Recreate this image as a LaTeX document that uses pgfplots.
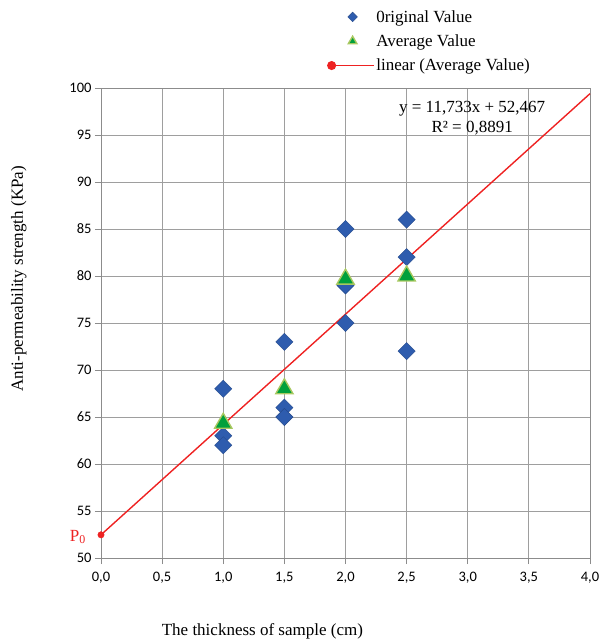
\documentclass[border=0pt]{standalone}
\usepackage{fontspec}
\setmainfont{Liberation Serif}
\newfontfamily\tickfont{Carlito}
\usepackage{pgfplots}
\pgfplotsset{compat=1.18}

\definecolor{ptblue}{HTML}{2E5CAE}
\definecolor{ptgreen}{HTML}{00A03C}
\definecolor{ptrim}{HTML}{A8C860}
\definecolor{lnred}{HTML}{EE2222}

\pgfplotsset{
    legdia/.style={legend image code/.code={\draw[##1, mark size=3.4pt, mark repeat=2, mark phase=2]
        plot coordinates {(0pt,0pt)(21pt,0pt)(42pt,0pt)};}},
    legtri/.style={legend image code/.code={\draw[##1, mark size=5pt, mark repeat=2, mark phase=2]
        plot coordinates {(0pt,0pt)(21pt,0pt)(42pt,0pt)};}},
    leglin/.style={legend image code/.code={\draw[lnred, line width=1.4pt] (0pt,0pt) -- (42pt,0pt);
        \fill[lnred] (0pt,0pt) circle (3.8pt);}},
}

\begin{document}
\begin{tikzpicture}[font=\fontsize{17}{20}\selectfont]
\begin{axis}[
    scale only axis,
    width=489pt, height=470pt,
    xmin=0, xmax=4, ymin=50, ymax=100,
    clip=false,
    xtick={0,0.5,...,4}, ytick={50,55,...,100},
    /pgf/number format/assume math mode=true,
    tick label style={font=\tickfont\fontsize{14.5}{17}\selectfont},
    x tick label style={/pgf/number format/fixed, /pgf/number format/fixed zerofill,
        /pgf/number format/precision=1, /pgf/number format/use comma, yshift=-5pt},
    grid=major,
    grid style={color=black!38, line width=0.8pt},
    axis line style={color=black!45, line width=0.8pt},
    tick style={color=black!45, line width=0.8pt},
    tick align=outside, tick pos=left, major tick length=6pt,
    xlabel={The thickness of sample (cm)},
    xlabel style={at={(axis description cs:0.33,-0.157)}, anchor=center},
    ylabel={Anti-permeability strength (KPa)},
    ylabel style={at={(axis description cs:-0.168,0.594)}, anchor=center},
    legend style={at={(axis description cs:0.462,1.170)}, anchor=north west,
        draw=none, fill=none, row sep=7pt, inner sep=0pt,
        nodes={inner sep=2pt, anchor=west}},
    legend cell align=left,
]
\addplot[only marks, mark=square*, mark size=6.1pt, legdia,
    mark options={rotate=45, fill=ptblue, draw=ptblue!80!black, line width=0.4pt}]
coordinates {
(1,68)(1,63)(1,62)
(1.5,73)(1.5,66)(1.5,65)
(2,85)(2,79)(2,75)
(2.5,86)(2.5,82)(2.5,72)
};
\addlegendentry{0riginal Value}
\addplot[only marks, mark=triangle*, mark size=10pt, legtri,
    mark options={fill=ptgreen, draw=ptrim, line width=1.4pt}]
coordinates {(1,64.333)(1.5,68)(2,79.667)(2.5,80)};
\addlegendentry{Average Value}
\addplot[lnred, line width=1.4pt, no marks, leglin]
coordinates {(0,52.467)(4,99.399)};
\addlegendentry{linear (Average Value)}
\addplot[only marks, mark=*, mark size=3.2pt, color=lnred, forget plot]
coordinates {(0,52.467)};
\node[text=lnred, anchor=east, inner sep=0pt, xshift=-15pt, yshift=-2pt] at (axis cs:0,52.467) {P\textsubscript{0}};
\node[align=center, inner sep=0pt] at (axis description cs:0.759,0.936)
    {y = 11,733x + 52,467\\R² = 0,8891};
\coordinate (ll) at (rel axis cs:0,0);
\coordinate (ur) at (rel axis cs:1,1);
\end{axis}
\pgfresetboundingbox
\path ([shift={(-101pt,-85pt)}]ll) rectangle ([shift={(12pt,88pt)}]ur);
\end{tikzpicture}
\end{document}
